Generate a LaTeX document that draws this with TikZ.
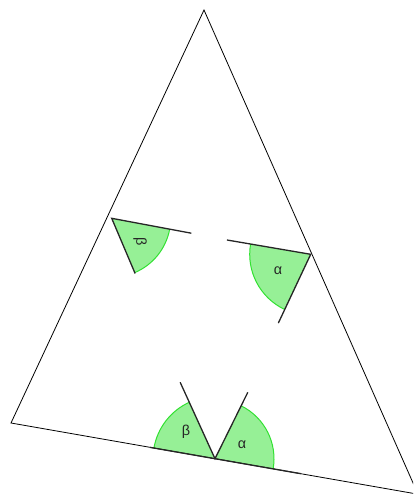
\documentclass[tikz,border=0pt]{standalone}
\usepackage{fontspec}
\setmainfont{Liberation Sans}
\usepackage{xcolor}
\usetikzlibrary{calc}
\definecolor{wedgefill}{RGB}{150,240,150}
\definecolor{wedgearc}{RGB}{50,225,50}

\begin{document}
\begin{tikzpicture}[x=1pt,y=-1pt,
  side/.style={line width=0.8pt},
  ray/.style={line width=1.3pt,black!85},
  arcline/.style={wedgearc,line width=1pt},
  lab/.style={font=\Large,text=black!85}]
  \useasboundingbox (0,0) rectangle (413,496);
  \clip (0,0) rectangle (413,496);
  \coordinate (T) at (204,10);
  \coordinate (BL) at (11,423);
  \coordinate (BR) at (418,494.2);
  \coordinate (V0) at (215,458.7);
  \coordinate (V1) at (111.7,218.3);
  \coordinate (V2) at (310.7,254.3);
  % wedges at the base
  \fill[wedgefill] (V0) -- ++(189.9:62) arc[start angle=189.9,end angle=245.5,radius=62] -- cycle;
  \fill[wedgefill] (V0) -- ++(296.3:59) arc[start angle=296.3,end angle=369.9,radius=59] -- cycle;
  \draw[arcline] (V0) ++(189.9:62) arc[start angle=189.9,end angle=245.5,radius=62];
  \draw[arcline] (V0) ++(296.3:59) arc[start angle=296.3,end angle=369.9,radius=59];
  % copied wedges
  \fill[wedgefill] (V1) -- ++(10.6:59) arc[start angle=10.6,end angle=67,radius=59] -- cycle;
  \draw[arcline] (V1) ++(10.6:59) arc[start angle=10.6,end angle=67,radius=59];
  \fill[wedgefill] (V2) -- ++(115.2:61) arc[start angle=115.2,end angle=189.7,radius=61] -- cycle;
  \draw[arcline] (V2) ++(115.2:61) arc[start angle=115.2,end angle=189.7,radius=61];
  % triangle
  \draw[side] (T) -- (BL) -- (BR) -- cycle;
  % rays
  \coordinate (R0a) at ($(V0)+(245.5:84)$);
  \coordinate (R0b) at ($(V0)+(296.3:74)$);
  \coordinate (R0c) at ($(V0)+(189.9:66)$);
  \coordinate (R0d) at ($(V0)+(9.9:87)$);
  \coordinate (R1a) at ($(V1)+(10.6:81)$);
  \coordinate (R1b) at ($(V1)+(67:60)$);
  \coordinate (R2a) at ($(V2)+(189.7:85)$);
  \coordinate (R2b) at ($(V2)+(115.2:76)$);
  \draw[ray] (R0a) -- (V0) -- (R0b);
  \draw[ray] (R0c) -- (R0d);
  \draw[ray] (R1a) -- (V1) -- (R1b);
  \draw[ray] (R2a) -- (V2) -- (R2b);
  % labels
  \node[lab] (b0) at (186,432) {β};
  \node[lab] (a0) at (242,445) {α};
  \node[lab,rotate=-90] (b1) at (140,242) {β};
  \node[lab] (a1) at (278,271) {α};
\end{tikzpicture}
\end{document}
